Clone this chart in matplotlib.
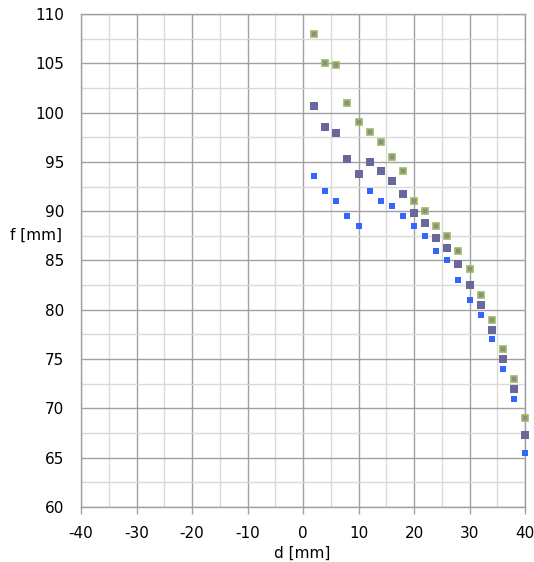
import matplotlib
matplotlib.use("Agg")
import matplotlib.pyplot as plt
from matplotlib.ticker import MultipleLocator

# distance d [mm]
d = [2, 4, 6, 8, 10, 12, 14, 16, 18, 20, 22, 24, 26, 28, 30, 32, 34, 36, 38, 40]

# focal length f [mm] per series
f_green = [108.0, 105.0, 104.8, 101.0, 99.0, 98.0, 97.0, 95.5, 94.1, 91.0,
           90.0, 88.5, 87.5, 86.0, 84.1, 81.5, 79.0, 76.0, 73.0, 69.0]
f_purple = [100.7, 98.5, 97.9, 95.3, 93.8, 95.0, 94.1, 93.1, 91.7, 89.8,
            88.8, 87.3, 86.3, 84.6, 82.5, 80.5, 78.0, 75.0, 72.0, 67.3]
f_blue = [93.6, 92.0, 91.0, 89.5, 88.5, 92.0, 91.0, 90.5, 89.5, 88.5,
          87.5, 86.0, 85.0, 83.0, 81.0, 79.5, 77.0, 74.0, 71.0, 65.5]

plt.rcParams['font.family'] = ['DejaVu Sans']
plt.rcParams['axes.unicode_minus'] = False

fig = plt.figure(figsize=(5.34, 5.62), dpi=100)
ax = fig.add_axes([0.1517, 0.0979, 0.8315, 0.8772])

ax.plot(d, f_blue, 's', color='#3366ff', markersize=4.3, markeredgewidth=0,
        zorder=3, clip_on=False)
ax.plot(d, f_purple, 's', color='#68689c', markersize=5.6, markeredgewidth=0,
        zorder=3, clip_on=False)
ax.plot(d, f_green, 's', markerfacecolor='#8c8c8c', markeredgecolor='#9bbb59',
        markersize=4.3, markeredgewidth=1.2, zorder=4, clip_on=False)

ax.set_xlim(-40, 40)
ax.set_ylim(60, 110)
ax.xaxis.set_major_locator(MultipleLocator(10))
ax.xaxis.set_minor_locator(MultipleLocator(5))
ax.yaxis.set_major_locator(MultipleLocator(5))
ax.yaxis.set_minor_locator(MultipleLocator(2.5))

ax.grid(which='major', color='#a0a0a0', linewidth=1.0)
ax.grid(which='minor', color='#d9d9d9', linewidth=1.0)
ax.set_axisbelow(True)

for s in ax.spines.values():
    s.set_color('#a0a0a0')
    s.set_linewidth(1.0)

ax.tick_params(axis='x', which='major', length=5, width=1, color='#a0a0a0',
               pad=9, labelsize=11)
ax.tick_params(axis='y', which='major', length=0, pad=12, labelsize=11)
ax.tick_params(which='minor', length=0)

ax.set_xlabel('d [mm]', fontsize=11, va='center')
ax.xaxis.set_label_coords(0.498, -0.094)
ax.set_ylabel('f [mm]', fontsize=11, rotation=0, ha='center', va='center')
ax.yaxis.set_label_coords(-0.101, 0.552)

fig.savefig('out.png', dpi=100)
